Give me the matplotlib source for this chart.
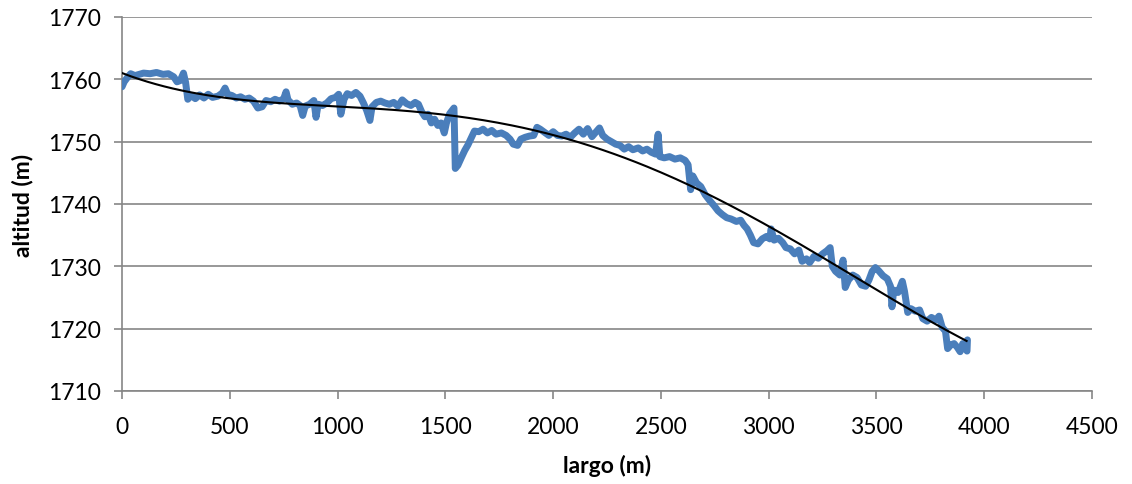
import numpy as np
import matplotlib
matplotlib.use('Agg')
from matplotlib import pyplot as plt

largo = [0, 10, 25, 40, 60, 80, 100, 130, 160, 190, 215, 240, 255, 270, 285, 295,
         305, 320, 340, 360, 380, 400, 420, 445, 465, 478, 490, 510, 530, 550, 570,
         590, 610, 630, 650, 668, 690, 710, 730, 750, 761, 770, 790, 810, 826, 838,
         850, 870, 890, 900, 910, 930, 950, 970, 990, 1005, 1015, 1030, 1045, 1065,
         1085, 1104, 1120, 1135, 1150, 1160, 1180, 1200, 1220, 1240, 1260, 1280,
         1300, 1320, 1340, 1360, 1375, 1390, 1405, 1420, 1435, 1450, 1465, 1480,
         1495, 1505, 1520, 1540, 1546, 1558, 1575, 1590, 1605, 1620, 1635, 1655,
         1675, 1695, 1715, 1735, 1760, 1782, 1800, 1815, 1835, 1850, 1870, 1890,
         1910, 1925, 1940, 1960, 1980, 2000, 2020, 2040, 2060, 2080, 2100, 2120,
         2140, 2160, 2180, 2200, 2215, 2230, 2250, 2270, 2290, 2310, 2330, 2350,
         2370, 2395, 2415, 2435, 2455, 2475, 2487, 2495, 2515, 2540, 2565, 2590,
         2612, 2626, 2638, 2648, 2665, 2685, 2705, 2725, 2745, 2765, 2785, 2805,
         2825, 2850, 2870, 2885, 2900, 2915, 2930, 2950, 2970, 2990, 3005, 3011,
         3025, 3045, 3065, 3080, 3100, 3120, 3140, 3155, 3175, 3190, 3210, 3230,
         3250, 3270, 3285, 3295, 3310, 3330, 3345, 3355, 3370, 3390, 3410, 3430,
         3450, 3465, 3480, 3495, 3510, 3530, 3550, 3565, 3572, 3580, 3600, 3620,
         3630, 3645, 3660, 3680, 3700, 3715, 3735, 3755, 3775, 3790, 3805, 3820,
         3830, 3845, 3860, 3875, 3888, 3900, 3910, 3920, 3922]
altitud = [1758.8, 1759.6, 1760.3, 1760.9, 1760.6, 1760.8, 1761.0, 1760.9, 1761.1,
           1760.8, 1760.9, 1760.4, 1759.6, 1759.8, 1761.0, 1759.5, 1756.8, 1757.4,
           1756.9, 1757.5, 1757.0, 1757.6, 1757.1, 1757.3, 1757.8, 1758.6, 1757.6,
           1757.4, 1757.0, 1757.2, 1756.8, 1757.0, 1756.5, 1755.4, 1755.6, 1756.6,
           1756.4, 1756.8, 1756.5, 1756.9, 1758.0, 1756.7, 1756.0, 1756.2, 1755.8,
           1754.2, 1755.7, 1756.0, 1756.6, 1753.9, 1756.0, 1755.8, 1756.2, 1756.9,
           1757.1, 1757.6, 1754.4, 1756.8, 1757.7, 1757.4, 1757.9, 1757.3, 1756.2,
           1755.0, 1753.4, 1755.6, 1756.3, 1756.5, 1756.2, 1756.0, 1756.3, 1755.7,
           1756.7, 1756.1, 1755.8, 1756.3, 1756.0, 1754.8, 1754.0, 1754.4, 1753.0,
           1753.6, 1752.6, 1753.0, 1751.4, 1753.0, 1754.5, 1755.4, 1745.7, 1746.2,
           1747.5, 1748.6, 1749.5, 1750.6, 1751.7, 1751.6, 1752.0, 1751.4, 1751.8,
           1751.2, 1751.4, 1751.0, 1750.4, 1749.6, 1749.4, 1750.4, 1750.7, 1750.9,
           1751.0, 1752.3, 1752.0, 1751.5, 1751.0, 1751.6, 1751.0, 1750.9, 1751.2,
           1750.7, 1751.4, 1752.0, 1751.2, 1752.1, 1750.8, 1751.6, 1752.2, 1751.0,
           1750.4, 1750.0, 1749.6, 1749.4, 1748.8, 1749.2, 1748.7, 1749.0, 1748.5,
           1748.8, 1748.3, 1748.0, 1751.2, 1747.6, 1747.4, 1747.6, 1747.2, 1747.4,
           1747.0, 1746.3, 1742.3, 1744.5, 1743.4, 1742.8, 1741.5, 1740.6, 1739.8,
           1738.9, 1738.3, 1737.8, 1737.6, 1737.2, 1737.4, 1736.6, 1736.0, 1735.0,
           1733.8, 1733.6, 1734.4, 1734.8, 1734.4, 1736.0, 1734.2, 1734.5, 1733.8,
           1733.0, 1732.8, 1732.0, 1732.6, 1730.8, 1731.2, 1730.6, 1731.6, 1731.3,
           1732.0, 1732.5, 1733.0, 1730.0, 1729.2, 1728.6, 1731.0, 1726.6, 1727.8,
           1728.6, 1728.2, 1727.0, 1726.8, 1727.8, 1729.2, 1729.8, 1729.3, 1728.5,
           1728.0, 1726.8, 1723.5, 1726.2, 1725.8, 1727.6, 1726.0, 1722.6, 1723.2,
           1722.8, 1723.0, 1721.6, 1721.2, 1721.8, 1721.4, 1722.0, 1720.2, 1719.6,
           1716.8, 1717.4, 1717.6, 1717.0, 1716.3, 1717.6, 1717.0, 1716.4, 1718.2]

# puntos leidos sobre la linea de tendencia negra
tend_largo = [0, 300, 717, 1181, 1290, 1568, 1907, 2217, 2310, 2527, 2774, 2836,
              3006, 3238, 3470, 3702, 3918]
tend_alt = [1760.5, 1758.7, 1756.85, 1754.95, 1754.4, 1753.5, 1751.75, 1749.1,
            1747.75, 1745.6, 1740.8, 1739.7, 1736.0, 1731.2, 1726.6, 1721.8, 1718.5]

x_ticks = [0, 500, 1000, 1500, 2000, 2500, 3000, 3500, 4000, 4500]
y_ticks = [1710, 1720, 1730, 1740, 1750, 1760, 1770]

# tendencia polinomica suave por esos puntos
coef = np.polyfit(tend_largo, tend_alt, 4)
x_tend = np.linspace(tend_largo[0], tend_largo[-1], 300)
y_tend = np.polyval(coef, x_tend)

plt.rcParams['font.family'] = ['Lato', 'DejaVu Sans']

fig = plt.figure(figsize=(11.32, 4.85), dpi=100)
ax = fig.add_axes([0.1078, 0.1918, 0.8569, 0.7711])

gris = '#868686'
ax.plot(largo, altitud, color='#4A7EBB', lw=5, solid_joinstyle='round',
        solid_capstyle='round', zorder=3)
ax.plot(x_tend, y_tend, color='black', lw=1.5, zorder=4)

ax.set_xlim(0, 4500)
ax.set_ylim(1710, 1770)
ax.set_xticks(x_ticks)
ax.set_yticks(y_ticks)
ax.yaxis.grid(True, color=gris, lw=1.2)
ax.set_axisbelow(True)

for s in ['top', 'right']:
    ax.spines[s].set_visible(False)
for s in ['left', 'bottom']:
    ax.spines[s].set_color(gris)
    ax.spines[s].set_linewidth(1.2)
ax.tick_params(axis='both', colors=gris, length=6, width=1.2, labelsize=16.5,
               labelcolor='black')
ax.tick_params(axis='x', pad=12)
ax.tick_params(axis='y', pad=9)

ax.set_xlabel('largo (m)', fontsize=16.5, fontweight='bold', labelpad=12)
ax.set_ylabel('altitud (m)', fontsize=16.5, fontweight='bold', labelpad=11)

fig.savefig('out.png', dpi=100)
